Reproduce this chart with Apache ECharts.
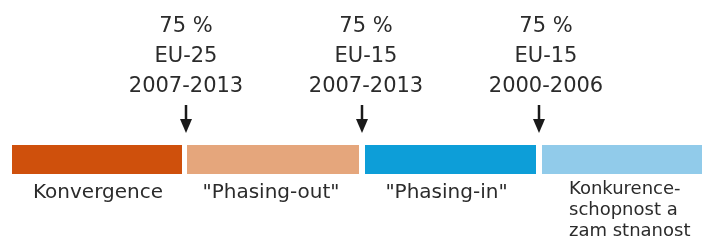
<!DOCTYPE html>
<html>
<head>
<meta charset="utf-8">
<script src="https://cdn.jsdelivr.net/npm/echarts@6/dist/echarts.min.js"></script>
<style>
  html, body { margin: 0; padding: 0; background: #fff; }
  #chart { width: 702px; height: 242px; }
</style>
</head>
<body>
<div id="chart"></div>
<script>
// segments of the scale (start / end on the horizontal axis)
const segStart = [12, 187, 365, 542]
const segEnd = [182, 359, 536, 702]
const segNames = ['Konvergence', '"Phasing-out"', '"Phasing-in"', 'Konkurence-\nschopnost a\nzam stnanost']
// thresholds marked by arrows
const thresholds = [186, 362, 539]
const thresholdLabels = ['75 %\nEU-25\n2007-2013', '75 %\nEU-15\n2007-2013', '75 %\nEU-15\n2000-2006']

const colors = ['#cf500c', '#e5a67c', '#0d9ed8', '#91cbea']
const labelShift = [0, 4, 7]
const segLabelShift = [1, -2, -4, 0]
const textColor = '#2b2b2b'
const font = 'DejaVu Sans'
const barTop = 145
const barBottom = 174

let myChart = echarts.init(document.getElementById('chart'))

const segData = segStart.map((s, i) => [s, segEnd[i]])
const arrowData = thresholds.map(t => [t])

const option = {
  animation: false,
  grid: { left: 0, right: 0, top: 0, bottom: 0 },
  xAxis: { type: 'value', min: 0, max: 702, show: false },
  yAxis: { type: 'value', min: 0, max: 242, inverse: true, show: false },
  series: [
    {
      type: 'custom',
      data: segData,
      renderItem(params, api) {
        const i = params.dataIndex
        const p0 = api.coord([api.value(0), barTop])
        const p1 = api.coord([api.value(1), barBottom])
        const last = i === segData.length - 1
        const tx = last ? p0[0] + 27 : (p0[0] + p1[0]) / 2 + segLabelShift[i]
        return {
          type: 'group',
          children: [
            {
              type: 'rect',
              shape: { x: p0[0], y: p0[1], width: p1[0] - p0[0], height: p1[1] - p0[1] },
              style: { fill: colors[i] }
            },
            {
              type: 'text',
              style: {
                text: segNames[i],
                x: tx,
                y: last ? p1[1] + 5 : p1[1] + 19,
                fill: textColor,
                fontFamily: font,
                fontSize: last ? 18 : 20,
                lineHeight: last ? 21 : 24,
                align: last ? 'left' : 'center',
                verticalAlign: last ? 'top' : 'middle'
              }
            }
          ]
        }
      }
    },
    {
      type: 'custom',
      data: arrowData,
      renderItem(params, api) {
        const i = params.dataIndex
        const top = api.coord([api.value(0), 105])
        const tip = api.coord([api.value(0), 133])
        const x = top[0]
        return {
          type: 'group',
          children: [
            {
              type: 'line',
              shape: { x1: x, y1: top[1], x2: x, y2: tip[1] - 10 },
              style: { stroke: '#1a1a1a', lineWidth: 2.5 }
            },
            {
              type: 'polygon',
              shape: { points: [[x - 6, tip[1] - 14], [x + 6, tip[1] - 14], [x, tip[1]]] },
              style: { fill: '#1a1a1a' }
            },
            {
              type: 'text',
              style: {
                text: thresholdLabels[i],
                x: x + labelShift[i],
                y: 57,
                fill: textColor,
                fontFamily: font,
                fontSize: 21,
                lineHeight: 30,
                align: 'center',
                verticalAlign: 'middle'
              }
            }
          ]
        }
      }
    }
  ]
}
myChart.setOption(option)
</script>
</body>
</html>
